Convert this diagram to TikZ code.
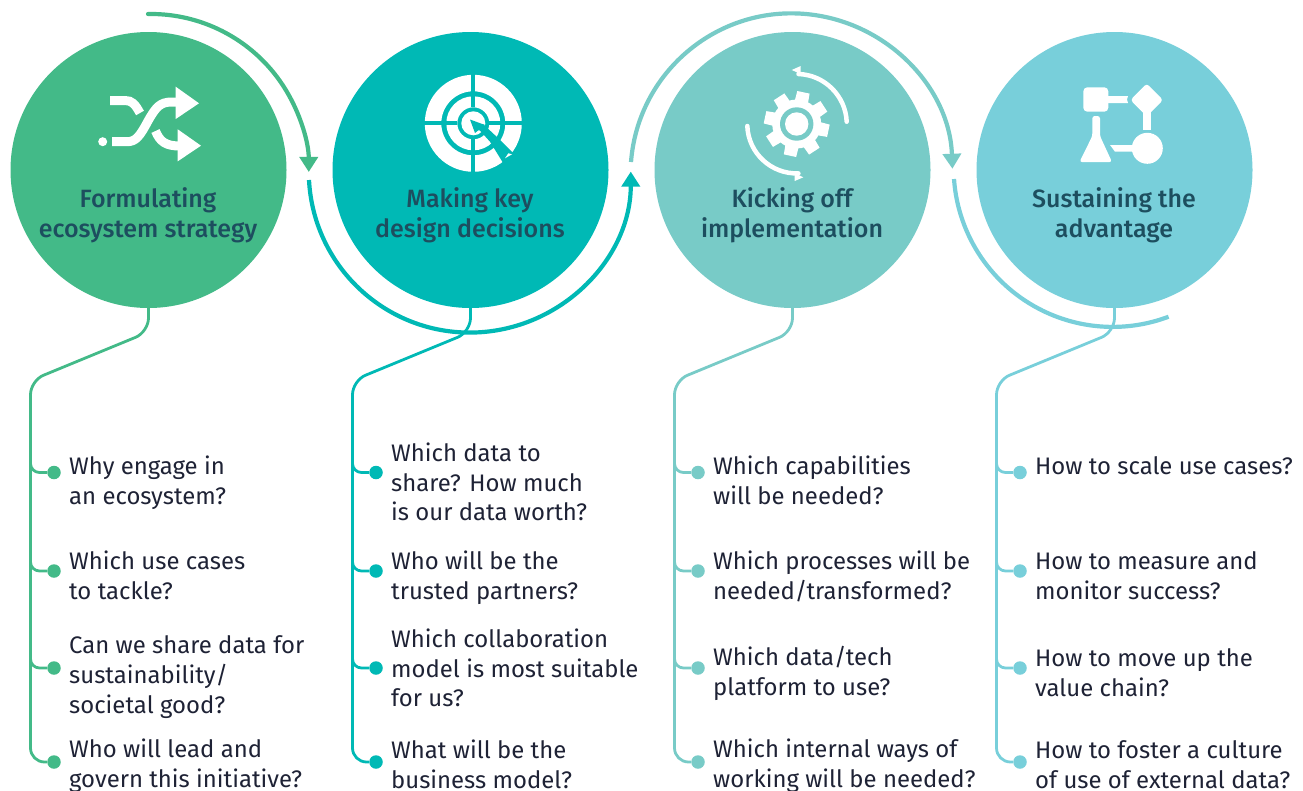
\documentclass[tikz,border=0pt]{standalone}
\usepackage{fontspec}
\setmainfont{Fira Sans}
\newfontfamily\titlefont{Fira Sans}[UprightFont=* Medium]
\usetikzlibrary{arrows.meta}
\definecolor{cgreen}{HTML}{43BA88}
\definecolor{cteal}{HTML}{00B9B5}
\definecolor{clteal}{HTML}{78CBC7}
\definecolor{cblue}{HTML}{78CFDA}
\definecolor{ctitle}{HTML}{1D4E5F}
\definecolor{ctext}{HTML}{1E2235}
\tikzset{
  x=1pt,y=1pt,
  stage/.style={circle,draw=none,inner sep=0,minimum size=276pt},
  title/.style={inner sep=0,align=center,text=ctitle,font=\titlefont\fontsize{25}{29.5}\selectfont},
  item/.style={inner sep=0,anchor=west,align=left,text=ctext,font=\fontsize{23.9}{29.7}\selectfont},
  bullet/.style={circle,inner sep=0,minimum size=13.5pt},
  conn/.style={line width=2.8pt,rounded corners=14pt},
  twig/.style={line width=2.8pt,rounded corners=9pt},
  sweep/.style={line width=4.2pt},
  sweephead/.style={-{Triangle[length=15pt,width=18pt]}},
  ico/.style={white,line width=9pt},
}
\begin{document}
\begin{tikzpicture}
\useasboundingbox (0,-790) rectangle (1303,0);
% stages
\node[stage,fill=cgreen]  (s1) at (148.5,-170) {};
\node[stage,fill=cteal]   (s2) at (470.5,-170) {};
\node[stage,fill=clteal]  (s3) at (792.5,-170) {};
\node[stage,fill=cblue]   (s4) at (1114.5,-170) {};
\node[title] (t1) at (148,-215.5) {Formulating\\ecosystem strategy};
\node[title] (t2) at (470,-215.5) {Making key\\design decisions};
\node[title] (t3) at (792,-215.5) {Kicking off\\implementation};
\node[title] (t4) at (1114,-215.5) {Sustaining the\\advantage};
% sweeping arcs
\coordinate (a1) at (148,-14);
\coordinate (a2) at (309,-180);
\coordinate (a3) at (631,-162);
\coordinate (a4) at (954,-179);
\draw[sweep,cgreen,line cap=round,sweephead] (a1) arc[start angle=91,end angle=0,radius=158];
\draw[sweep,cteal,sweephead] (a2) arc[start angle=183,end angle=360,radius=161];
\draw[sweep,clteal,sweephead] (a3) arc[start angle=175.6,end angle=2,radius=161];
\draw[sweep,cblue] (a4) arc[start angle=184,end angle=290.6,radius=159];
% connectors
\foreach \i/\x/\c in {1/148/cgreen,2/470/cteal,3/792/clteal,4/1114/cblue}{
  \pgfmathsetmacro{\v}{\x-117.5}
  \pgfmathsetmacro{\d}{\x-94}
  \node[bullet,fill=\c] (d\i a) at (\d,-472.5) {};
  \node[bullet,fill=\c] (d\i b) at (\d,-571) {};
  \node[bullet,fill=\c] (d\i c) at (\d,-668) {};
  \node[bullet,fill=\c] (d\i d) at (\d,-762) {};
  \coordinate (v\i a) at (\v,-461);
  \coordinate (v\i b) at (\v,-560);
  \coordinate (v\i c) at (\v,-657);
  \draw[conn,draw=\c] (s\i.south) -- (\x+0.5,-332) -- (\v,-380.6) -- (\v,-762) -- (d\i d);
  \draw[twig,draw=\c] (v\i a) -- (\v,-472.5) -- (d\i a);
  \draw[twig,draw=\c] (v\i b) -- (\v,-571) -- (d\i b);
  \draw[twig,draw=\c] (v\i c) -- (\v,-668) -- (d\i c);
}
% items
\node[item] (i1a) at (69,-483) {Why engage in\\an ecosystem?};
\node[item] (i1b) at (69,-575) {Which use cases\\to tackle?};
\node[item] (i1c) at (69,-677) {Can we share data for\\sustainability/\\societal good?};
\node[item] (i1d) at (69,-765.5) {Who will lead and\\govern this initiative?};
\node[item] (i2a) at (391,-482) {Which data to\\share? How much\\is our data worth?};
\node[item] (i2b) at (391,-578) {Who will be the\\trusted partners?};
\node[item] (i2c) at (391,-668) {Which collaboration\\model is most suitable\\for us?};
\node[item] (i2d) at (391,-764.5) {What will be the\\business model?};
\node[item] (i3a) at (713,-480) {Which capabilities\\will be needed?};
\node[item] (i3b) at (713,-576.5) {Which processes will be\\needed/transformed?};
\node[item] (i3c) at (713,-673.5) {Which data/tech\\platform to use?};
\node[item] (i3d) at (713,-765.5) {Which internal ways of\\working will be needed?};
\node[item] (i4a) at (1035,-466) {How to scale use cases?};
\node[item] (i4b) at (1035,-576) {How to measure and\\monitor success?};
\node[item] (i4c) at (1035,-672.5) {How to move up the\\value chain?};
\node[item] (i4d) at (1035,-764.5) {How to foster a culture\\of use of external data?};
% icon 1: shuffle
\fill[white] (102.7,-141.7) circle (4.5);
\draw[ico] (110,-100.5) -- (125,-100.5) .. controls (132,-100.5) and (135,-104) .. (140,-113);
\draw[ico] (112,-141.7) -- (127,-141.7) .. controls (136,-141.7) and (140,-136) .. (148,-121) .. controls (156,-107) and (160,-102) .. (172,-102) -- (178,-102);
\draw[ico] (155.5,-131) .. controls (160,-142) and (166,-146) .. (180,-146);
\fill[white] (175.7,-86.7) -- (199,-103.3) -- (175.7,-119) -- cycle;
\fill[white] (177.7,-129.3) -- (201,-145.7) -- (177.7,-161.3) -- cycle;
% icon 2: target
\begin{scope}[shift={(473.3,-123.3)}]
\fill[white,even odd rule] (0,0) circle (48.5) (0,0) circle (32);
\fill[white,even odd rule] (0,0) circle (27) (0,0) circle (16);
\fill[white] (0,0) circle (12);
\draw[cteal,line width=4pt] (-50,0) -- (-16,0) (16,0) -- (50,0) (0,50) -- (0,16) (0,-16) -- (0,-50);
\fill[cteal] (5,-5.5) -- (10,-1) -- (25,-15) -- (42,-32) -- (30,-40) -- (16.7,-18.4) -- cycle;
\fill[cteal] (-3.3,3.8) -- (11.7,-1.7) -- (7,-4) -- (9,-7) -- (5,-7) -- (1.7,-9.7) -- cycle;
\fill[white] (31.7,-35) -- (35,-30) -- (38.7,-31) -- cycle;
\end{scope}
% icon 3: gear
\begin{scope}[shift={(796.7,-124)}]
\fill[white] (0,0) circle (24.5);
\foreach \a in {78,123,168,213,258,303,348,393}{
  \fill[white] (\a-17:23) -- (\a-11:33) -- (\a+11:33) -- (\a+17:23) -- cycle;
}
\fill[clteal] (0,0) circle (16.7);
\fill[white] (0,0) circle (11.7);
\draw[white,line width=4.5pt,line cap=round] (50,2.3) arc[start angle=2.6,end angle=88,radius=50];
\draw[white,line width=4.5pt,line cap=round] (-49.4,-2) arc[start angle=182.3,end angle=272,radius=49.4];
\fill[white] (-5,54) -- (4,58) -- (4,50) -- cycle;
\fill[white] (6.6,-53.3) -- (-2,-49) -- (-2,-57) -- cycle;
\end{scope}
% icon 4: flow
\fill[white,rounded corners=4pt] (1083.3,-87.3) rectangle (1108.3,-111.7);
\fill[white] (1108,-96) -- (1128,-96) -- (1127,-99.5) -- (1128,-103) -- (1108,-103) -- cycle;
\fill[white,rounded corners=3pt] (1146.7,-83.5) -- (1163,-100) -- (1146.7,-116.5) -- (1130.5,-100) -- cycle;
\fill[white] (1143.2,-110) rectangle (1150.7,-130);
\fill[white] (1147.3,-148.3) circle (15.5);
\fill[white] (1110,-145) -- (1135,-145) -- (1135,-151.7) -- (1115,-151.7) -- cycle;
\fill[white,rounded corners=2.5pt] (1092.3,-116) -- (1100,-116) -- (1100,-136) -- (1112,-162) -- (1079.5,-162) -- (1092.3,-136) -- cycle;
\end{tikzpicture}
\end{document}
